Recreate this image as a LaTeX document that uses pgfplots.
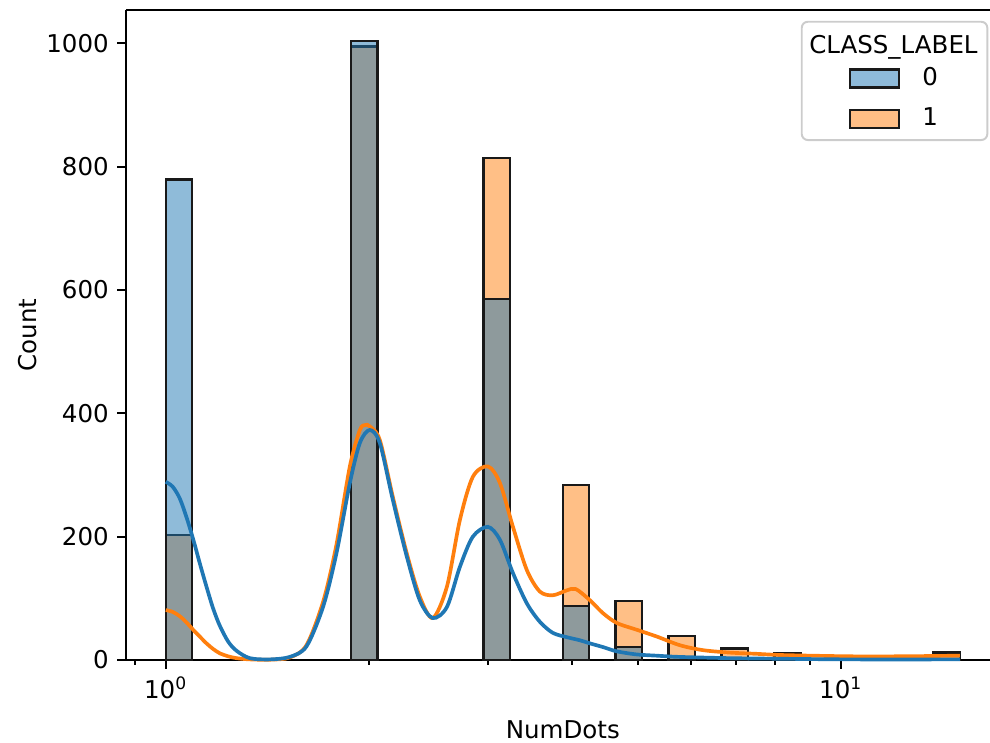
\documentclass[border=0pt]{standalone}
\usepackage{fontspec}
\setmainfont{DejaVu Sans}
\usepackage{pgfplots}
\pgfplotsset{compat=1.18}

\definecolor{c0}{HTML}{1F77B4}
\definecolor{c1}{HTML}{FF7F0E}

\begin{document}
\begin{tikzpicture}
\begin{axis}[
    name=ax,
    at={(0,0)}, anchor=south west,
    scale only axis,
    % the right spine of the original lies just outside the image
    width=352.7pt, height=265.3pt,
    xmode=log,
    xmin=0.873, xmax=16.63,
    ymin=0, ymax=1054,
    axis x line*=bottom, axis y line*=left,
    x axis line style={-}, y axis line style={-},
    clip=false,
    tick align=outside,
    major tick length=3.5pt, minor tick length=2pt,
    every tick/.style={black, line width=0.8pt},
    axis line style={line width=0.8pt},
    xtick={1,10},
    xticklabels={10\textsuperscript{0},10\textsuperscript{1}},
    minor xtick={0.9,2,3,4,5,6,7,8,9},
    ytick={0,200,400,600,800,1000},
    /pgf/number format/assume math mode=true,
    /pgf/number format/1000 sep={},
    tick label style={font=\fontsize{10}{12}\selectfont},
    label style={font=\fontsize{10}{12}\selectfont},
    xlabel={NumDots}, ylabel={Count},
    xlabel style={at={(axis description cs:0.5056,-0.1077)}, anchor=center},
    ylabel style={at={(axis description cs:-0.1134,0.5)}, anchor=center},
    legend image code/.code={\draw[#1] (0pt,-3.7pt) rectangle (20pt,3.7pt);},
    legend style={draw=none, fill=none, at={(axis description cs:0.8883,0.8638)},
        anchor=center, inner sep=0pt, row sep=7.6pt, column sep=9pt,
        font=\fontsize{10}{12}\selectfont, nodes={inner sep=0pt}},
    legend cell align=left,
]

% class 1 bars (drawn first)
\addplot[forget plot, fill=c1, fill opacity=0.5, draw=black!90, line width=1pt] coordinates {(1,203) (1.0945,203)} \closedcycle;
\addplot[forget plot, fill=c1, fill opacity=0.5, draw=black!90, line width=1pt] coordinates {(1.8811,995) (2.0588,995)} \closedcycle;
\addplot[forget plot, fill=c1, fill opacity=0.5, draw=black!90, line width=1pt] coordinates {(2.9542,814) (3.2332,814)} \closedcycle;
\addplot[forget plot, fill=c1, fill opacity=0.5, draw=black!90, line width=1pt] coordinates {(3.8730,284) (4.2387,284)} \closedcycle;
\addplot[forget plot, fill=c1, fill opacity=0.5, draw=black!90, line width=1pt] coordinates {(4.6393,96) (5.0776,96)} \closedcycle;
\addplot[forget plot, fill=c1, fill opacity=0.5, draw=black!90, line width=1pt] coordinates {(5.5573,39) (6.0822,39)} \closedcycle;
\addplot[forget plot, fill=c1, fill opacity=0.5, draw=black!90, line width=1pt] coordinates {(6.6569,19) (7.2856,19)} \closedcycle;
\addplot[forget plot, fill=c1, fill opacity=0.5, draw=black!90, line width=1pt] coordinates {(7.9738,11) (8.7269,11)} \closedcycle;
\addplot[forget plot, fill=c1, fill opacity=0.5, draw=black!90, line width=1pt] coordinates {(13.7052,12) (15,12)} \closedcycle;

% class 0 bars
\addplot[forget plot, fill=c0, fill opacity=0.5, draw=black!90, line width=1pt] coordinates {(1,779) (1.0945,779)} \closedcycle;
\addplot[forget plot, fill=c0, fill opacity=0.5, draw=black!90, line width=1pt] coordinates {(1.8811,1004) (2.0588,1004)} \closedcycle;
\addplot[forget plot, fill=c0, fill opacity=0.5, draw=black!90, line width=1pt] coordinates {(2.9542,585) (3.2332,585)} \closedcycle;
\addplot[forget plot, fill=c0, fill opacity=0.5, draw=black!90, line width=1pt] coordinates {(3.8730,88) (4.2387,88)} \closedcycle;
\addplot[forget plot, fill=c0, fill opacity=0.5, draw=black!90, line width=1pt] coordinates {(4.6393,21) (5.0776,21)} \closedcycle;
\addplot[forget plot, fill=c0, fill opacity=0.5, draw=black!90, line width=1pt] coordinates {(5.5573,5) (6.0822,5)} \closedcycle;
\addplot[forget plot, fill=c0, fill opacity=0.5, draw=black!90, line width=1pt] coordinates {(6.6569,2) (7.2856,2)} \closedcycle;
\addplot[forget plot, fill=c0, fill opacity=0.5, draw=black!90, line width=1pt] coordinates {(7.9738,1) (8.7269,1)} \closedcycle;

% kde, class 1
\addplot[forget plot, c1, line width=1.5pt, smooth] coordinates {
    (1.000,81) (1.024,78) (1.049,71) (1.073,61) (1.098,49) (1.123,38) (1.149,27)
    (1.175,18) (1.202,11) (1.237,6) (1.273,3) (1.332,1) (1.426,0.5)
    (1.526,4) (1.616,24) (1.711,95) (1.790,187) (1.874,314) (1.939,373) (1.975,381)
    (2.005,379) (2.075,357) (2.169,265) (2.275,173) (2.378,103) (2.486,68)
    (2.609,119) (2.727,227) (2.850,297) (3.000,314) (3.126,287) (3.268,216)
    (3.426,146) (3.582,111) (3.745,105) (3.928,113) (4.050,115) (4.248,97)
    (4.442,76) (4.658,60) (4.986,49) (5.339,38) (5.774,24) (6.246,16) (6.848,12)
    (7.508,10) (8.207,8) (10.31,6) (12.23,6) (15,7)
};
% kde, class 0
\addplot[forget plot, c0, line width=1.5pt, smooth] coordinates {
    (1.000,289) (1.024,281) (1.049,262) (1.073,232) (1.098,196) (1.123,157)
    (1.149,119) (1.175,84) (1.202,56) (1.237,30) (1.273,15)
    (1.332,3) (1.426,1) (1.526,5) (1.616,22) (1.711,87) (1.790,173) (1.874,287)
    (1.939,352) (2.005,373) (2.075,352) (2.169,260) (2.275,168) (2.378,97)
    (2.486,68) (2.609,86) (2.727,151) (2.850,200) (3.000,216) (3.126,195)
    (3.268,141) (3.426,92) (3.582,62) (3.745,44) (3.928,37) (4.106,32) (4.248,27)
    (4.442,21) (4.658,14) (4.986,9) (5.339,7) (5.774,5) (6.848,3) (8.207,2)
    (10.31,1) (15,1)
};

% top spine
\draw[line width=0.8pt] (axis description cs:0,1) -- (axis description cs:1,1);

% legend frame and title
\draw[draw=black!20, line width=0.8pt, rounded corners=2.5pt, fill=white, fill opacity=0.8]
    (axis description cs:0.7821,0.8) rectangle (axis description cs:0.9969,0.982);
\node[anchor=base, font=\fontsize{10}{12}\selectfont] at (axis description cs:0.8883,0.9338) {CLASS\_LABEL};

\addlegendimage{fill=c0, fill opacity=0.5, draw=black!90, line width=1pt}
\addlegendentry{0}
\addlegendimage{fill=c1, fill opacity=0.5, draw=black!90, line width=1pt}
\addlegendentry{1}
\end{axis}
\pgfresetboundingbox
\path[use as bounding box] (-51.4pt,-33.5pt) rectangle (352.7pt,269.4pt);
\end{tikzpicture}
\end{document}
